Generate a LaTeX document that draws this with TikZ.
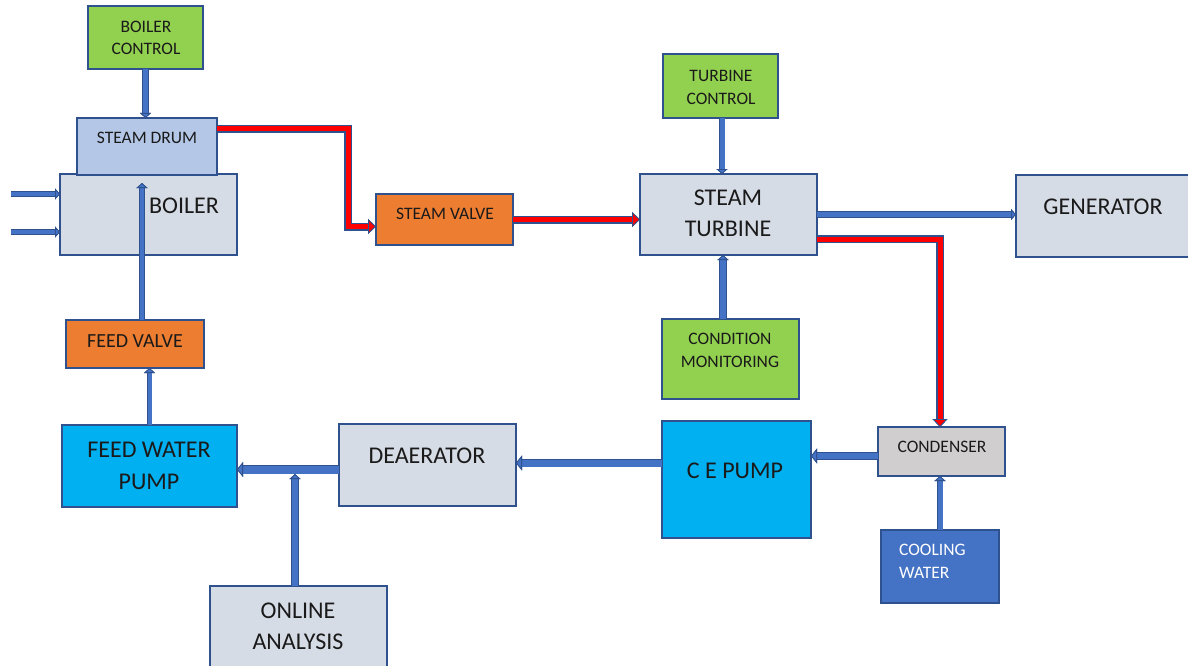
\documentclass[tikz,border=0pt]{standalone}
\usepackage{fontspec}
\setmainfont{Carlito}
\usetikzlibrary{arrows.meta,calc}
\definecolor{boxedge}{HTML}{2F528F}
\definecolor{pipeblue}{HTML}{4472C4}
\definecolor{ctrlgreen}{HTML}{92D050}
\definecolor{valveorange}{HTML}{ED7D31}
\definecolor{greyblue}{HTML}{D6DCE5}
\definecolor{drumblue}{HTML}{B4C7E7}
\definecolor{pumpcyan}{HTML}{00B0F0}
\definecolor{condgrey}{HTML}{D0CECE}
\definecolor{coolblue}{HTML}{4472C4}
\definecolor{steamred}{HTML}{FF0000}
\definecolor{txt}{HTML}{1A1A1A}
\begin{document}
\begin{tikzpicture}[x=1pt,y=-1pt,
  box/.style={draw=boxedge, line width=1.4pt, inner sep=0pt, outer sep=0pt},
  small/.style={inner sep=0pt, align=center, text=txt, font=\fontsize{17.5}{22.5}\selectfont},
  mid/.style={inner sep=0pt, align=center, text=txt, font=\fontsize{20}{24}\selectfont},
  big/.style={inner sep=0pt, align=center, text=txt, font=\fontsize{24}{31.5}\selectfont},
  bpipe/.style={draw=pipeblue, line width=#1, line join=miter,
    preaction={draw=boxedge, line width=#1+1.6pt}},
  rpipe/.style={draw=steamred, line width=5pt, line join=miter,
    preaction={draw=boxedge, line width=8pt}},
  BT/.tip={Triangle[length=5pt,width=11pt,line width=0.8pt,fill=pipeblue,color=boxedge]},
  BTT/.tip={Triangle[length=6pt,width=15pt,line width=0.8pt,fill=pipeblue,color=boxedge]},
  RT/.tip={Triangle[length=8pt,width=15pt,line width=0.8pt,fill=steamred,color=boxedge]},
]
\useasboundingbox (0,0) rectangle (1188,666);
\clip (0,0) rectangle (1188,666);

% boxes
\node[box, fill=ctrlgreen, minimum width=115pt, minimum height=63pt] (bc) at (145.5,37.5) {};
\node[box, fill=greyblue, minimum width=177pt, minimum height=81pt] (boiler) at (148.5,214.5) {};
\node[box, fill=drumblue, minimum width=140pt, minimum height=57pt] (sd) at (147,146.5) {};
\node[box, fill=valveorange, minimum width=138pt, minimum height=48pt] (fv) at (135,344) {};
\node[box, fill=pumpcyan, minimum width=175pt, minimum height=82pt] (fwp) at (149.5,466) {};
\node[box, fill=greyblue, minimum width=177pt, minimum height=82pt] (da) at (427.5,465) {};
\node[box, fill=greyblue, minimum width=177pt, minimum height=104pt] (oa) at (298.5,638) {};
\node[box, fill=pumpcyan, minimum width=149pt, minimum height=117pt] (cep) at (736.5,479.5) {};
\node[box, fill=condgrey, minimum width=127pt, minimum height=49pt] (cond) at (941.5,451.5) {};
\node[box, fill=coolblue, minimum width=118pt, minimum height=73pt] (cw) at (940,566.5) {};
\node[box, fill=valveorange, minimum width=137pt, minimum height=51pt] (sv) at (444.5,219.5) {};
\node[box, fill=greyblue, minimum width=177pt, minimum height=81pt] (st) at (728.5,214.5) {};
\node[box, fill=ctrlgreen, minimum width=115pt, minimum height=64pt] (tc) at (720.5,86) {};
\node[box, fill=ctrlgreen, minimum width=137pt, minimum height=80pt] (cm) at (730.5,359) {};
\node[box, fill=greyblue, minimum width=184pt, minimum height=82pt] (gen) at (1108,216) {};

% labels
\node[small] (bc-t) at (146,38) {BOILER\\CONTROL};
\node[small] (sd-t) at (147,138) {STEAM DRUM};
\node[big] (boiler-t) at (184,206) {BOILER};
\node[mid] (fv-t) at (135,341) {FEED VALVE};
\node[big] (fwp-t) at (149,466) {FEED WATER\\PUMP};
\node[big] (da-t) at (427,456) {DEAERATOR};
\node[big] (oa-t) at (298,626.5) {ONLINE\\ANALYSIS};
\node[big] (cep-t) at (735,471) {C E PUMP};
\node[small] (cond-t) at (942,447) {CONDENSER};
\node[small, anchor=west, align=left, text=white] (cw-t) at (899,561.5) {COOLING\\WATER};
\node[small] (sv-t) at (445,214) {STEAM VALVE};
\node[big] (st-t) at (728,213.5) {STEAM\\TURBINE};
\node[small] (tc-t) at (721,87.5) {TURBINE\\CONTROL};
\node[small] (cm-t) at (730,350.5) {CONDITION\\MONITORING};
\node[big] (gen-t) at (1103,207) {GENERATOR};

% free ends
\coordinate (in1) at (11,194);
\coordinate (in2) at (11,232);
\coordinate (bin) at (142,183);

% blue connectors
\draw[bpipe=4.5pt, -BT] (bc.south) -- (bc.south |- sd.north);
\draw[bpipe=3.5pt, -BT] (in1) -- (in1 -| boiler.west);
\draw[bpipe=3.5pt, -BT] (in2) -- (in2 -| boiler.west);
\draw[bpipe=3.5pt, -BT] ([xshift=7pt]fv.north) -- (bin);
\draw[bpipe=4pt, -BT] (fwp.north) -- (fwp.north |- fv.south);
\draw[bpipe=8pt, -BTT] ($(da.west)+(0,4.5)$) coordinate (j1) -- (j1 -| fwp.east);
\draw[bpipe=5.5pt, -BT, shorten >=4.5pt] ($(oa.north)+(-3.5,0)$) coordinate (o1) -- (o1 |- j1);
\draw[bpipe=7pt, -BTT] ($(cep.west)+(0,-16.5)$) coordinate (j2) -- (j2 -| da.east);
\draw[bpipe=6.5pt, -BTT] ($(cond.west)+(0,4.5)$) coordinate (j3) -- (j3 -| cep.east);
\draw[bpipe=5pt, -BT] (cw.north) -- (cw.north |- cond.south);
\draw[bpipe=5pt, -BT] ([xshift=1.5pt]tc.south) coordinate (t1) -- (t1 |- st.north);
\draw[bpipe=5.5pt, -BT] ($(cm.north)+(-7.5,0)$) coordinate (m1) -- (m1 |- st.south);
\draw[bpipe=4.5pt, -BT] (st.east) -- (st.east -| gen.west);

% steam (red) connectors
\draw[rpipe, -RT] ($(sd.east)+(0,-17.5)$) -| ($(sv.west)+(-28,7)$) coordinate (r2) -- (r2 -| sv.west);
\draw[rpipe, -RT] (sv.east) -- (sv.east -| st.west);
\draw[rpipe, -RT] ($(st.east)+(0,24.5)$) -| ($(cond.north)+(-1.5,0)$);
\end{tikzpicture}
\end{document}
